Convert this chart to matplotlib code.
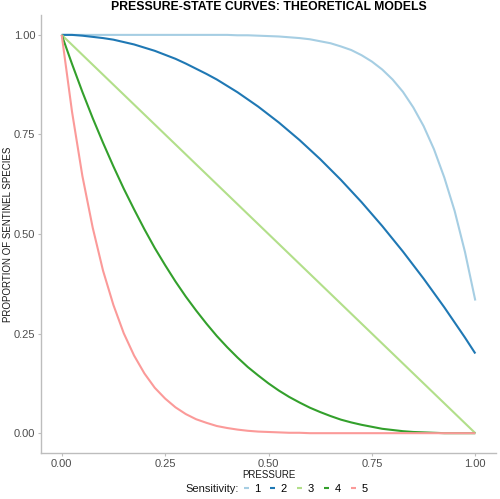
import numpy as np
import matplotlib
matplotlib.use("Agg")
from matplotlib import pyplot as plt

plt.rcParams['font.family'] = ['Liberation Sans', 'DejaVu Sans']

# values
pressure = [0.0, 0.025, 0.05, 0.075, 0.1, 0.125, 0.15, 0.175, 0.2, 0.225,
            0.25, 0.275, 0.3, 0.325, 0.35, 0.375, 0.4, 0.425, 0.45, 0.475,
            0.5, 0.525, 0.55, 0.575, 0.6, 0.625, 0.65, 0.675, 0.7, 0.725,
            0.75, 0.775, 0.8, 0.825, 0.85, 0.875, 0.9, 0.925, 0.95, 0.975, 1.0]

sens_1 = [1.0, 1.0, 1.0, 1.0, 1.0, 1.0, 1.0, 1.0, 1.0, 1.0,
          1.0, 1.0, 1.0, 1.0, 1.0, 1.0, 1.0, 0.999, 0.999, 0.998,
          0.997, 0.996, 0.994, 0.992, 0.989, 0.984, 0.979, 0.971, 0.962, 0.949,
          0.933, 0.913, 0.888, 0.857, 0.818, 0.771, 0.713, 0.642, 0.558, 0.455, 0.333]

sens_2 = [1.0, 1.0, 0.998, 0.995, 0.992, 0.988, 0.982, 0.976, 0.968, 0.960,
          0.950, 0.940, 0.928, 0.915, 0.902, 0.888, 0.872, 0.856, 0.838, 0.820,
          0.800, 0.780, 0.758, 0.736, 0.712, 0.688, 0.662, 0.636, 0.608, 0.580,
          0.550, 0.520, 0.488, 0.456, 0.422, 0.388, 0.352, 0.316, 0.278, 0.240, 0.200]

sens_3 = [1.0, 0.975, 0.95, 0.925, 0.9, 0.875, 0.85, 0.825, 0.8, 0.775,
          0.75, 0.725, 0.7, 0.675, 0.65, 0.625, 0.6, 0.575, 0.55, 0.525,
          0.5, 0.475, 0.45, 0.425, 0.4, 0.375, 0.35, 0.325, 0.3, 0.275,
          0.25, 0.225, 0.2, 0.175, 0.15, 0.125, 0.1, 0.075, 0.05, 0.025, 0.0]

sens_4 = [1.0, 0.927, 0.857, 0.791, 0.729, 0.670, 0.614, 0.562, 0.512, 0.465,
          0.422, 0.381, 0.343, 0.308, 0.275, 0.244, 0.216, 0.190, 0.166, 0.145,
          0.125, 0.107, 0.091, 0.077, 0.064, 0.053, 0.043, 0.034, 0.027, 0.021,
          0.016, 0.011, 0.008, 0.005, 0.003, 0.002, 0.001, 0.0, 0.0, 0.0, 0.0]

sens_5 = [1.0, 0.807, 0.646, 0.516, 0.408, 0.322, 0.251, 0.195, 0.150, 0.114,
          0.087, 0.065, 0.048, 0.035, 0.026, 0.018, 0.013, 0.009, 0.006, 0.004,
          0.003, 0.002, 0.001, 0.001, 0.0, 0.0, 0.0, 0.0, 0.0, 0.0,
          0.0, 0.0, 0.0, 0.0, 0.0, 0.0, 0.0, 0.0, 0.0, 0.0, 0.0]

labels = ['1', '2', '3', '4', '5']
colors = ['#A6CEE3', '#1F78B4', '#B2DF8A', '#33A02C', '#FB9A99']

fig = plt.figure(figsize=(5.0, 4.99), dpi=100)
ax = fig.add_axes([0.082, 0.092, 0.910, 0.878])

for ys, lab, col in zip([sens_1, sens_2, sens_3, sens_4, sens_5], labels, colors):
    ax.plot(pressure, ys, color=col, lw=1.5, label=lab, solid_capstyle='butt')

ax.set_xlim(-0.05, 1.05)
ax.set_ylim(-0.05, 1.05)
ax.set_xticks([0, 0.25, 0.5, 0.75, 1.0])
ax.set_yticks([0, 0.25, 0.5, 0.75, 1.0])
ax.set_xticklabels(['0.00', '0.25', '0.50', '0.75', '1.00'])
ax.set_yticklabels(['0.00', '0.25', '0.50', '0.75', '1.00'])

for side in ['top', 'right']:
    ax.spines[side].set_visible(False)
for side in ['left', 'bottom']:
    ax.spines[side].set_color('#BDBDBD')
    ax.spines[side].set_linewidth(1.0)
ax.tick_params(colors='#BDBDBD', labelcolor='#4D4D4D', labelsize=8, length=2, width=0.8, pad=2)

ax.set_xlabel('PRESSURE', fontsize=7, color='#1A1A1A', labelpad=1)
ax.set_ylabel('PROPORTION OF SENTINEL SPECIES', fontsize=7, color='#1A1A1A')
ax.yaxis.set_label_coords(-0.062, 0.5)

fig.text(0.538, 1 - 6.7 / 499, 'PRESSURE-STATE CURVES: THEORETICAL MODELS',
         fontsize=8.8, fontweight='bold', ha='center', va='center')

fig.text(0.37, 0.020, 'Sensitivity:', fontsize=8, color='#1A1A1A', va='center', ha='left')
fig.legend(loc='center left', bbox_to_anchor=(0.487, 0.020), ncol=5, frameon=False,
           fontsize=8, handlelength=0.45, handletextpad=0.5, columnspacing=0.9,
           borderpad=0, borderaxespad=0)

fig.savefig('out.png', dpi=100)
